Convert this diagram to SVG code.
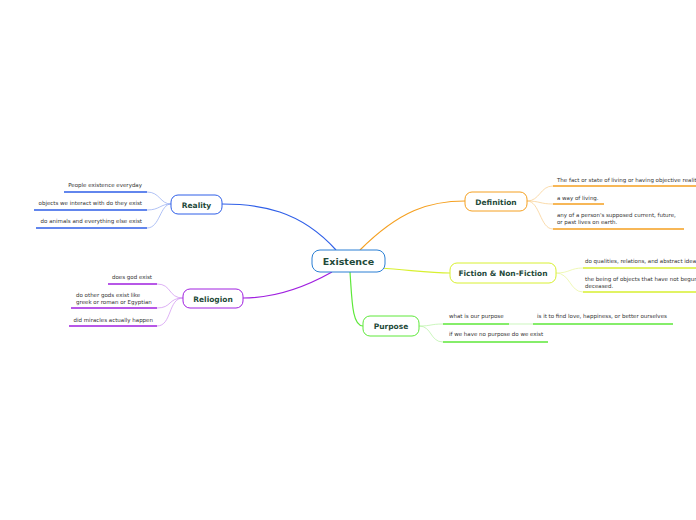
<svg xmlns="http://www.w3.org/2000/svg" width="696" height="520" viewBox="0 0 696 520">
<style>
text{font-family:"DejaVu Sans","Liberation Sans",sans-serif;fill:#333;font-size:5.5px}
.n{font-weight:bold;fill:#1f4a3a;font-size:7.5px;text-anchor:middle}
.c{font-size:9.5px}
.r{text-anchor:end}
path{fill:none}
</style>
<rect width="696" height="520" fill="#fff"/>
<g id="connectors" stroke-width="1.2">
<path d="M336,250 C300,210 260,204 222,204" stroke="#2f5fe8"/>
<path d="M332,272 C300,290 270,298 243,298" stroke="#a020e0"/>
<path d="M360,250 C400,210 430,201 465,201" stroke="#f5a020"/>
<path d="M380,268 C410,270 430,273 450,273" stroke="#d8f030"/>
<path d="M350,272 C352,300 352,326 363,326" stroke="#5ee83a"/>
<g stroke="#2f5fe8" stroke-width="1.5"><path d="M64,192H147M34,210H147M36,228H147"/></g>
<g stroke="#8fa8f0" stroke-width="0.7"><path d="M147,192 C160,192 160,204 171,204M147,210 C160,210 160,204 171,204M147,228 C160,228 160,204 171,204"/></g>
<g stroke="#a020e0" stroke-width="1.5"><path d="M108,284H157M71,308H157M69,326H157"/></g>
<g stroke="#cf8ff0" stroke-width="0.7"><path d="M157,284 C172,284 168,298 183,298M157,308 C172,308 168,298 183,298M157,326 C172,326 168,298 183,298"/></g>
<g stroke="#f5a020" stroke-width="1.5"><path d="M553,186H696M553,204H604M553,229H684"/></g>
<g stroke="#f8cc88" stroke-width="0.7"><path d="M527,201 C540,201 540,186 553,186M527,201 C540,201 540,204 553,204M527,201 C540,201 540,229 553,229"/></g>
<g stroke="#d8f030" stroke-width="1.5"><path d="M583,268H696M583,292H696"/></g>
<g stroke="#e8f598" stroke-width="0.7"><path d="M556,273 C570,273 570,268 583,268M556,273 C570,273 570,292 583,292"/></g>
<g stroke="#5ee83a" stroke-width="1.5"><path d="M443,324H509M533,324H673M443,342H548"/></g>
<g stroke="#b5f2a0" stroke-width="0.7"><path d="M419,326 C432,326 430,324 443,324M419,326 C432,326 430,342 443,342M509,324H533" /></g>
</g>
<g id="existence"><rect x="312" y="250" width="73" height="22" rx="8" fill="#fff" stroke="#2a7fd4"/><text class="n c" x="348.5" y="264.5">Existence</text></g>
<g id="definition"><rect x="465" y="192" width="62" height="19" rx="7" fill="#fff" stroke="#f5a020"/><text class="n" x="496" y="204.5">Definition</text></g>
<g id="fiction"><rect x="450" y="263" width="106" height="20" rx="7" fill="#fff" stroke="#d8f030"/><text class="n" x="503" y="275.5">Fiction &amp; Non-Fiction</text></g>
<g id="purpose"><rect x="363" y="316" width="56" height="20" rx="7" fill="#fff" stroke="#5ee83a"/><text class="n" x="391" y="328.5">Purpose</text></g>
<g id="reality"><rect x="171" y="195" width="51" height="19" rx="7" fill="#fff" stroke="#2f5fe8"/><text class="n" x="196.5" y="207.5">Reality</text></g>
<g id="religion"><rect x="183" y="289" width="60" height="19" rx="7" fill="#fff" stroke="#a020e0"/><text class="n" x="213" y="301.5">Reliogion</text></g>
<g id="labels">
<text x="557" y="182">The fact or state of living or having objective reality.</text>
<text x="557" y="200">a way of living.</text>
<text x="557" y="217">any of a person's supposed current, future,</text>
<text x="557" y="224">or past lives on earth.</text>
<text x="585" y="263">do qualities, relations, and abstract ideas exist</text>
<text x="585" y="281">the being of objects that have not begun or are</text>
<text x="585" y="288">deceased.</text>
<text x="449" y="318">what is our purpose</text>
<text x="537" y="318">is it to find love, happiness, or better ourselves</text>
<text x="449" y="336">if we have no purpose do we exist</text>
<text class="r" x="142" y="187">People existence everyday</text>
<text class="r" x="142" y="205">objects we interact with do they exist</text>
<text class="r" x="142" y="223">do animals and everything else exist</text>
<text class="r" x="152" y="279">does god exist</text>
<text x="76" y="297">do other gods exist like</text>
<text x="76" y="304">greek or roman or Egyptian</text>
<text class="r" x="153" y="322">did miracles actually happen</text>
</g>
</svg>
